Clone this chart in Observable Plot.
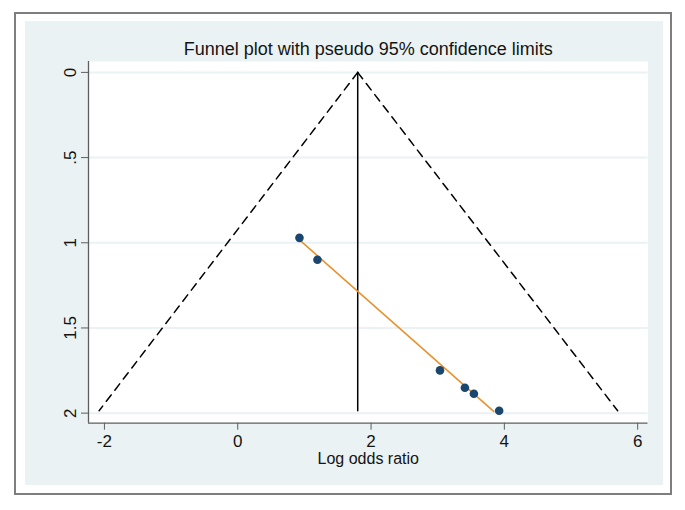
<!DOCTYPE html>
<html><head><meta charset="utf-8">
<script src="https://cdn.jsdelivr.net/npm/d3@7"></script>
<script src="https://cdn.jsdelivr.net/npm/@observablehq/plot@0.6"></script>
<style>
html,body{margin:0;padding:0;background:#fff;}
#page{position:relative;width:685px;height:510px;overflow:hidden;}
#border{position:absolute;left:14px;top:12px;width:658px;height:483px;box-sizing:border-box;border:2.5px solid #7e7e7e;}
#inner{position:absolute;left:25px;top:21px;width:638px;height:464px;background:#eaf2f3;}
#chart{position:absolute;left:0;top:0;}
</style>
</head><body>
<div id="page"><div id="border"></div><div id="inner"></div><div id="chart"></div></div>
<script>
const titleText = "Funnel plot with pseudo 95% confidence limits";
const xLabel = "Log odds ratio";
const xTicks = [-2, 0, 2, 4, 6];
const xTickLabels = ["-2", "0", "2", "4", "6"];
const yTicks = [0, 0.5, 1, 1.5, 2];
const yTickLabels = ["0", ".5", "1", "1.5", "2"];
const xDomain = [-2.239, 6.155];
const yDomain = [-0.064, 2.059];

const studyLogOR = [0.926, 1.196, 3.034, 3.408, 3.543, 3.922];
const studySE = [0.971, 1.100, 1.749, 1.851, 1.886, 1.986];

const pooledLogOR = 1.80;
const funnelSE = [0, 1.986];
const funnelLowerX = [1.80, -2.08];
const funnelUpperX = [1.80, 5.70];

const fitX = [0.897, 3.84];
const fitSE = [0.973, 1.99];

const points = studyLogOR.map((x, i) => ({x, se: studySE[i]}));
const lower = funnelSE.map((se, i) => ({x: funnelLowerX[i], se}));
const upper = funnelSE.map((se, i) => ({x: funnelUpperX[i], se}));
const center = funnelSE.map(se => ({x: pooledLogOR, se}));
const fit = fitSE.map((se, i) => ({x: fitX[i], se}));

const axisColor = "#5e5e5e";
const textColor = "#141414";

const chart = Plot.plot({
  width: 685,
  height: 510,
  marginLeft: 88,
  marginRight: 37.5,
  marginTop: 61,
  marginBottom: 87.3,
  style: {background: "transparent", fontFamily: "'Liberation Sans', Arial, sans-serif", fontSize: "16px", color: textColor},
  x: {domain: xDomain},
  y: {domain: yDomain, reverse: true},
  marks: [
    Plot.frame({fill: "white", stroke: "none"}),
    Plot.ruleY(yTicks, {stroke: "#eaf2f3", strokeWidth: 2}),
    Plot.ruleX([xDomain[0]], {stroke: axisColor, strokeWidth: 1.3}),
    Plot.ruleY([yDomain[1]], {stroke: axisColor, strokeWidth: 1.3}),
    Plot.axisX({ticks: xTicks, tickSize: 7, tickPadding: 5, stroke: axisColor, fill: textColor, fontSize: 17,
      tickFormat: d => xTickLabels[xTicks.indexOf(d)], label: null}),
    Plot.axisY({ticks: yTicks, tickSize: 7, stroke: axisColor, tickFormat: () => "", label: null}),
    Plot.text(yTicks, {y: d => d, text: d => yTickLabels[yTicks.indexOf(d)], frameAnchor: "left", dx: -18,
      rotate: -90, textAnchor: "middle", lineAnchor: "middle", fontSize: 17, fill: textColor}),
    Plot.text([titleText], {frameAnchor: "top", dy: -12, lineAnchor: "middle", fontSize: 18, fill: textColor}),
    Plot.text([xLabel], {frameAnchor: "bottom", dy: 36, lineAnchor: "middle", fontSize: 16, fill: textColor}),
    Plot.line(lower, {x: "x", y: "se", stroke: "black", strokeWidth: 1.5, strokeDasharray: "8,6"}),
    Plot.line(upper, {x: "x", y: "se", stroke: "black", strokeWidth: 1.5, strokeDasharray: "8,6"}),
    Plot.line(center, {x: "x", y: "se", stroke: "black", strokeWidth: 1.5}),
    Plot.line(fit, {x: "x", y: "se", stroke: "#e8922e", strokeWidth: 1.6}),
    Plot.dot(points, {x: "x", y: "se", r: 4.3, fill: "#1a476f", stroke: "none"})
  ]
});
document.getElementById("chart").appendChild(chart);
</script>
</body></html>
